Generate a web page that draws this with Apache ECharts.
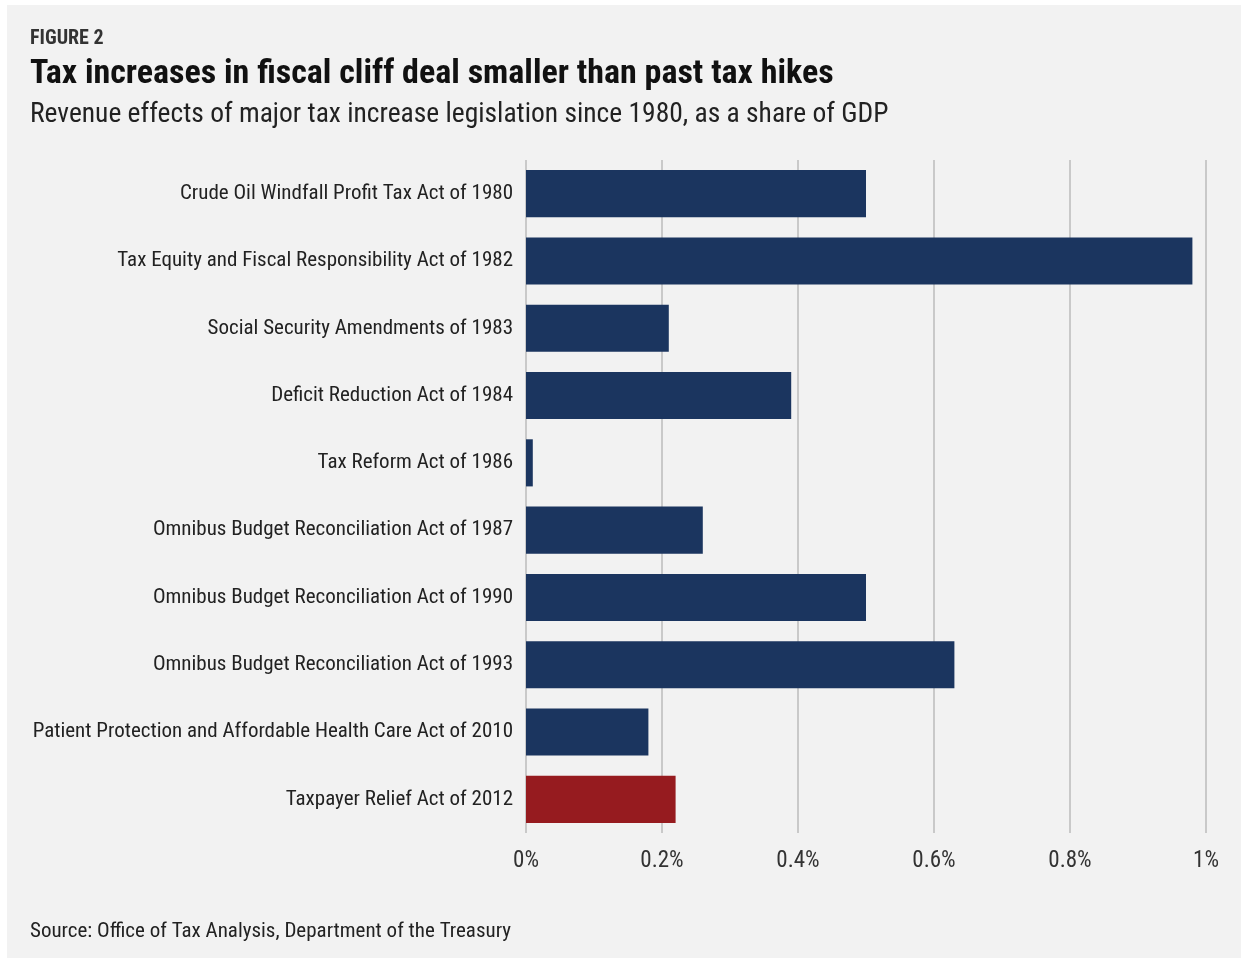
<!DOCTYPE html>
<html>
<head>
<meta charset="utf-8">
<script src="https://cdn.jsdelivr.net/npm/echarts@6/dist/echarts.min.js"></script>
<style>
html,body{margin:0;padding:0;background:#ffffff;}
#panel{position:absolute;left:7px;top:5px;width:1234px;height:953px;background:#f2f2f2;}
#chart{position:absolute;left:0;top:0;width:1241px;height:962px;}
</style>
</head>
<body>
<div id="panel"></div>
<div id="chart"></div>
<script>
const categories = [
  "Crude Oil Windfall Profit Tax Act of 1980",
  "Tax Equity and Fiscal Responsibility Act of 1982",
  "Social Security Amendments of 1983",
  "Deficit Reduction Act of 1984",
  "Tax Reform Act of 1986",
  "Omnibus Budget Reconciliation Act of 1987",
  "Omnibus Budget Reconciliation Act of 1990",
  "Omnibus Budget Reconciliation Act of 1993",
  "Patient Protection and Affordable Health Care Act of 2010",
  "Taxpayer Relief Act of 2012"
];
const values = [0.50, 0.98, 0.21, 0.39, 0.01, 0.26, 0.50, 0.63, 0.18, 0.22];
const highlight = [false, false, false, false, false, false, false, false, false, true];
const tickLabels = ["0%", "0.2%", "0.4%", "0.6%", "0.8%", "1%"];

const NAVY = "#1b355f";
const RED = "#961b1f";
const FONT = "'Roboto Condensed', 'Liberation Sans Narrow', Roboto, sans-serif";

const chart = echarts.init(document.getElementById('chart'), null, {renderer: 'canvas'});
chart.setOption({
  backgroundColor: 'transparent',
  animation: false,
  title: [
    {text: 'FIGURE 2', left: 30, top: 29, padding: 0, textStyle: {fontFamily: FONT, fontSize: 20, fontWeight: 'bold', color: '#333333'}},
    {text: 'Tax increases in fiscal cliff deal smaller than past tax hikes', left: 30, top: 57, padding: 0, textStyle: {fontFamily: FONT, fontSize: 34, fontWeight: 'bold', color: '#111111'}},
    {text: 'Revenue effects of major tax increase legislation since 1980, as a share of GDP', left: 30, top: 101, padding: 0, textStyle: {fontFamily: FONT, fontSize: 27.5, fontWeight: 'normal', color: '#222222'}},
    {text: 'Source: Office of Tax Analysis, Department of the Treasury', left: 30, top: 921, padding: 0, textStyle: {fontFamily: FONT, fontSize: 21, fontWeight: 'normal', color: '#222222'}}
  ],
  grid: {left: 526, right: 35, top: 160, bottom: 129, containLabel: false},
  xAxis: {
    type: 'value', min: 0, max: 1, interval: 0.2,
    axisLine: {show: false}, axisTick: {show: false},
    splitLine: {show: true, lineStyle: {color: '#c9c9c9', width: 2}},
    axisLabel: {
      margin: 17, fontFamily: FONT, fontSize: 23, color: '#333333',
      formatter: function (v) { return tickLabels[Math.round(v / 0.2)]; }
    }
  },
  yAxis: {
    type: 'category', data: categories, inverse: true,
    axisLine: {show: false}, axisTick: {show: false},
    axisLabel: {margin: 13, fontFamily: FONT, fontSize: 21, color: '#222222'}
  },
  series: [{
    type: 'bar',
    barWidth: '70%',
    data: values.map((v, i) => ({value: v, itemStyle: {color: highlight[i] ? RED : NAVY}}))
  }]
});
</script>
</body>
</html>
